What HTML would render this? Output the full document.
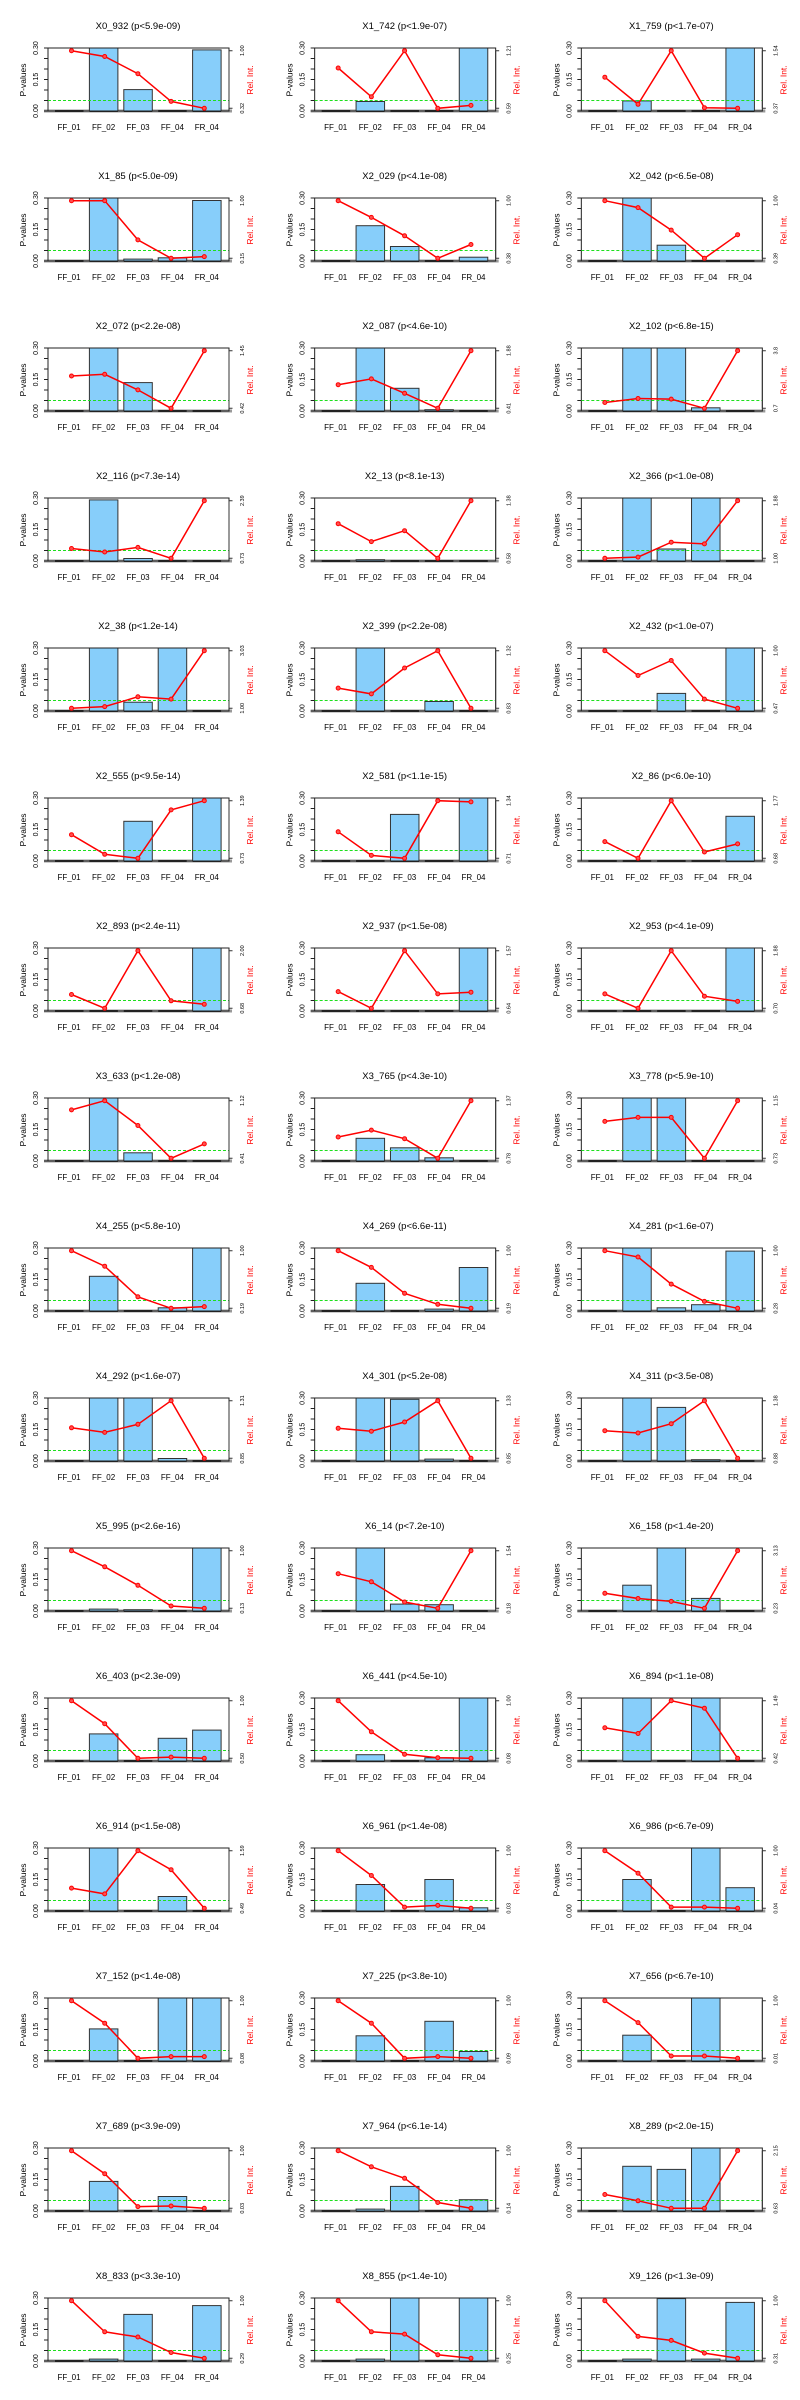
<!DOCTYPE html>
<html><head><meta charset="utf-8"><style>
html,body{margin:0;padding:0;background:#fff}
svg{display:block}
text{font-family:"Liberation Sans",sans-serif;fill:#000}
.t{font-size:9.5px;text-anchor:middle}
.x{font-size:8px;text-anchor:middle}
.y{font-size:7px;text-anchor:middle}
.p{font-size:8.5px;text-anchor:middle}
.r{font-size:8.5px;text-anchor:middle;fill:#f00}
.s{font-size:5.5px;text-anchor:middle}
.b{fill:#87cefa;stroke:#333;stroke-width:1}
.l{fill:none;stroke:#f00;stroke-width:1.5}
</style></head><body>
<svg width="800" height="2400" viewBox="0 0 800 2400" xmlns="http://www.w3.org/2000/svg">
<defs>
<g id="fa">
<line x1="44" y1="111" x2="232" y2="111" stroke="#999" stroke-width="3"/>
<path d="M55 111h28.5M89.4 111h28.5M123.8 111h28.5M158.2 111h28.5M192.6 111h28.5" stroke="#222" stroke-width="2"/>
</g>
<g id="fb">
<rect x="48" y="48" width="181" height="63" fill="none" stroke="#222" stroke-width="1"/>
<path d="M44 111H48M44 100.5H48M44 90H48M44 79.5H48M44 69H48M44 58.5H48M44 48H48" stroke="#222" stroke-width="1"/>
<line x1="48" y1="100.5" x2="229" y2="100.5" stroke="#1de01d" stroke-width="1" stroke-dasharray="3,2"/>
<path d="M229 50.7V108.3M229 50.7H232.5M229 108.3H232.5" stroke="#333" stroke-width="1" fill="none"/>
</g>
<g id="ax">
<text class="x" x="69" y="130">FF_01</text><text class="x" x="103.6" y="130">FF_02</text><text class="x" x="138" y="130">FF_03</text><text class="x" x="172.4" y="130">FF_04</text><text class="x" x="206.8" y="130">FR_04</text>
<text class="y" transform="translate(38,111) rotate(-90)">0.00</text><text class="y" transform="translate(38,79.5) rotate(-90)">0.15</text><text class="y" transform="translate(38,48) rotate(-90)">0.30</text>
<text class="p" transform="translate(26,80) rotate(-90)">P-values</text>
<text class="r" transform="translate(253,80) rotate(-90)">Rel. Int.</text>
</g>
</defs>

<g transform="translate(0,0)"><use href="#fa"/><rect class="b" x="89.4" y="48" width="28.5" height="63"/><rect class="b" x="123.8" y="89.6" width="28.5" height="21.4"/><rect class="b" x="192.6" y="49.9" width="28.5" height="61.1"/><use href="#fb"/><polyline class="l" points="71.5,50.7 104.7,56.5 137.9,73.7 171.1,101.4 204.3,108.3"/><g fill="#ff5050" stroke="#f00"><circle cx="71.5" cy="50.7" r="2"/><circle cx="104.7" cy="56.5" r="2"/><circle cx="137.9" cy="73.7" r="2"/><circle cx="171.1" cy="101.4" r="2"/><circle cx="204.3" cy="108.3" r="2"/></g><text class="t" x="138" y="29">X0_932 (p&lt;5.9e-09)</text><use href="#ax"/><text class="s" transform="translate(244,50.7) rotate(-90)">1.00</text><text class="s" transform="translate(244,108.3) rotate(-90)">0.32</text></g>

<g transform="translate(266.67,0)"><use href="#fa"/><rect class="b" x="89.4" y="101.5" width="28.5" height="9.5"/><rect class="b" x="192.6" y="48" width="28.5" height="63"/><use href="#fb"/><polyline class="l" points="71.5,68 104.7,96.8 137.9,50.7 171.1,108.3 204.3,105.4"/><g fill="#ff5050" stroke="#f00"><circle cx="71.5" cy="68" r="2"/><circle cx="104.7" cy="96.8" r="2"/><circle cx="137.9" cy="50.7" r="2"/><circle cx="171.1" cy="108.3" r="2"/><circle cx="204.3" cy="105.4" r="2"/></g><text class="t" x="138" y="29">X1_742 (p&lt;1.9e-07)</text><use href="#ax"/><text class="s" transform="translate(244,50.7) rotate(-90)">1.21</text><text class="s" transform="translate(244,108.3) rotate(-90)">0.59</text></g>

<g transform="translate(533.33,0)"><use href="#fa"/><rect class="b" x="89.4" y="100.9" width="28.5" height="10.1"/><rect class="b" x="192.6" y="48" width="28.5" height="63"/><use href="#fb"/><polyline class="l" points="71.5,77.2 104.7,104.3 137.9,50.7 171.1,107.7 204.3,108.3"/><g fill="#ff5050" stroke="#f00"><circle cx="71.5" cy="77.2" r="2"/><circle cx="104.7" cy="104.3" r="2"/><circle cx="137.9" cy="50.7" r="2"/><circle cx="171.1" cy="107.7" r="2"/><circle cx="204.3" cy="108.3" r="2"/></g><text class="t" x="138" y="29">X1_759 (p&lt;1.7e-07)</text><use href="#ax"/><text class="s" transform="translate(244,50.7) rotate(-90)">1.54</text><text class="s" transform="translate(244,108.3) rotate(-90)">0.37</text></g>

<g transform="translate(0,150)"><use href="#fa"/><rect class="b" x="89.4" y="48" width="28.5" height="63"/><rect class="b" x="123.8" y="109.1" width="28.5" height="1.9"/><rect class="b" x="158.2" y="107.8" width="28.5" height="3.2"/><rect class="b" x="192.6" y="50.5" width="28.5" height="60.5"/><use href="#fb"/><polyline class="l" points="71.5,50.7 104.7,50.7 137.9,89.9 171.1,108.3 204.3,106.6"/><g fill="#ff5050" stroke="#f00"><circle cx="71.5" cy="50.7" r="2"/><circle cx="104.7" cy="50.7" r="2"/><circle cx="137.9" cy="89.9" r="2"/><circle cx="171.1" cy="108.3" r="2"/><circle cx="204.3" cy="106.6" r="2"/></g><text class="t" x="138" y="29">X1_85 (p&lt;5.0e-09)</text><use href="#ax"/><text class="s" transform="translate(244,50.7) rotate(-90)">1.00</text><text class="s" transform="translate(244,108.3) rotate(-90)">0.15</text></g>

<g transform="translate(266.67,150)"><use href="#fa"/><rect class="b" x="89.4" y="75.7" width="28.5" height="35.3"/><rect class="b" x="123.8" y="96.5" width="28.5" height="14.5"/><rect class="b" x="192.6" y="107.2" width="28.5" height="3.8"/><use href="#fb"/><polyline class="l" points="71.5,50.7 104.7,67.4 137.9,85.8 171.1,108.3 204.3,94.5"/><g fill="#ff5050" stroke="#f00"><circle cx="71.5" cy="50.7" r="2"/><circle cx="104.7" cy="67.4" r="2"/><circle cx="137.9" cy="85.8" r="2"/><circle cx="171.1" cy="108.3" r="2"/><circle cx="204.3" cy="94.5" r="2"/></g><text class="t" x="138" y="29">X2_029 (p&lt;4.1e-08)</text><use href="#ax"/><text class="s" transform="translate(244,50.7) rotate(-90)">1.00</text><text class="s" transform="translate(244,108.3) rotate(-90)">0.38</text></g>

<g transform="translate(533.33,150)"><use href="#fa"/><rect class="b" x="89.4" y="48" width="28.5" height="63"/><rect class="b" x="123.8" y="95.2" width="28.5" height="15.8"/><use href="#fb"/><polyline class="l" points="71.5,50.7 104.7,57.6 137.9,80.1 171.1,108.3 204.3,84.7"/><g fill="#ff5050" stroke="#f00"><circle cx="71.5" cy="50.7" r="2"/><circle cx="104.7" cy="57.6" r="2"/><circle cx="137.9" cy="80.1" r="2"/><circle cx="171.1" cy="108.3" r="2"/><circle cx="204.3" cy="84.7" r="2"/></g><text class="t" x="138" y="29">X2_042 (p&lt;6.5e-08)</text><use href="#ax"/><text class="s" transform="translate(244,50.7) rotate(-90)">1.00</text><text class="s" transform="translate(244,108.3) rotate(-90)">0.39</text></g>

<g transform="translate(0,300)"><use href="#fa"/><rect class="b" x="89.4" y="48" width="28.5" height="63"/><rect class="b" x="123.8" y="82.6" width="28.5" height="28.4"/><use href="#fb"/><polyline class="l" points="71.5,76 104.7,74.3 137.9,89.9 171.1,108.3 204.3,50.7"/><g fill="#ff5050" stroke="#f00"><circle cx="71.5" cy="76" r="2"/><circle cx="104.7" cy="74.3" r="2"/><circle cx="137.9" cy="89.9" r="2"/><circle cx="171.1" cy="108.3" r="2"/><circle cx="204.3" cy="50.7" r="2"/></g><text class="t" x="138" y="29">X2_072 (p&lt;2.2e-08)</text><use href="#ax"/><text class="s" transform="translate(244,50.7) rotate(-90)">1.45</text><text class="s" transform="translate(244,108.3) rotate(-90)">0.42</text></g>

<g transform="translate(266.67,300)"><use href="#fa"/><rect class="b" x="89.4" y="48" width="28.5" height="63"/><rect class="b" x="123.8" y="88.3" width="28.5" height="22.7"/><rect class="b" x="158.2" y="109.7" width="28.5" height="1.3"/><use href="#fb"/><polyline class="l" points="71.5,84.7 104.7,78.9 137.9,93.3 171.1,108.3 204.3,50.7"/><g fill="#ff5050" stroke="#f00"><circle cx="71.5" cy="84.7" r="2"/><circle cx="104.7" cy="78.9" r="2"/><circle cx="137.9" cy="93.3" r="2"/><circle cx="171.1" cy="108.3" r="2"/><circle cx="204.3" cy="50.7" r="2"/></g><text class="t" x="138" y="29">X2_087 (p&lt;4.6e-10)</text><use href="#ax"/><text class="s" transform="translate(244,50.7) rotate(-90)">1.88</text><text class="s" transform="translate(244,108.3) rotate(-90)">0.41</text></g>

<g transform="translate(533.33,300)"><use href="#fa"/><rect class="b" x="89.4" y="48" width="28.5" height="63"/><rect class="b" x="123.8" y="48" width="28.5" height="63"/><rect class="b" x="158.2" y="107.8" width="28.5" height="3.2"/><use href="#fb"/><polyline class="l" points="71.5,102.5 104.7,98.5 137.9,99.1 171.1,108.3 204.3,50.7"/><g fill="#ff5050" stroke="#f00"><circle cx="71.5" cy="102.5" r="2"/><circle cx="104.7" cy="98.5" r="2"/><circle cx="137.9" cy="99.1" r="2"/><circle cx="171.1" cy="108.3" r="2"/><circle cx="204.3" cy="50.7" r="2"/></g><text class="t" x="138" y="29">X2_102 (p&lt;6.8e-15)</text><use href="#ax"/><text class="s" transform="translate(244,50.7) rotate(-90)">3.8</text><text class="s" transform="translate(244,108.3) rotate(-90)">0.7</text></g>

<g transform="translate(0,450)"><use href="#fa"/><rect class="b" x="89.4" y="49.9" width="28.5" height="61.1"/><rect class="b" x="123.8" y="108.5" width="28.5" height="2.5"/><use href="#fb"/><polyline class="l" points="71.5,98.5 104.7,102 137.9,97.4 171.1,108.3 204.3,50.7"/><g fill="#ff5050" stroke="#f00"><circle cx="71.5" cy="98.5" r="2"/><circle cx="104.7" cy="102" r="2"/><circle cx="137.9" cy="97.4" r="2"/><circle cx="171.1" cy="108.3" r="2"/><circle cx="204.3" cy="50.7" r="2"/></g><text class="t" x="138" y="29">X2_116 (p&lt;7.3e-14)</text><use href="#ax"/><text class="s" transform="translate(244,50.7) rotate(-90)">2.39</text><text class="s" transform="translate(244,108.3) rotate(-90)">0.73</text></g>

<g transform="translate(266.67,450)"><use href="#fa"/><rect class="b" x="89.4" y="109.7" width="28.5" height="1.3"/><use href="#fb"/><polyline class="l" points="71.5,73.7 104.7,91.6 137.9,80.7 171.1,108.3 204.3,50.7"/><g fill="#ff5050" stroke="#f00"><circle cx="71.5" cy="73.7" r="2"/><circle cx="104.7" cy="91.6" r="2"/><circle cx="137.9" cy="80.7" r="2"/><circle cx="171.1" cy="108.3" r="2"/><circle cx="204.3" cy="50.7" r="2"/></g><text class="t" x="138" y="29">X2_13 (p&lt;8.1e-13)</text><use href="#ax"/><text class="s" transform="translate(244,50.7) rotate(-90)">1.38</text><text class="s" transform="translate(244,108.3) rotate(-90)">0.58</text></g>

<g transform="translate(533.33,450)"><use href="#fa"/><rect class="b" x="89.4" y="48" width="28.5" height="63"/><rect class="b" x="123.8" y="99" width="28.5" height="12"/><rect class="b" x="158.2" y="48" width="28.5" height="63"/><use href="#fb"/><polyline class="l" points="71.5,108.3 104.7,107.1 137.9,92.2 171.1,93.9 204.3,50.7"/><g fill="#ff5050" stroke="#f00"><circle cx="71.5" cy="108.3" r="2"/><circle cx="104.7" cy="107.1" r="2"/><circle cx="137.9" cy="92.2" r="2"/><circle cx="171.1" cy="93.9" r="2"/><circle cx="204.3" cy="50.7" r="2"/></g><text class="t" x="138" y="29">X2_366 (p&lt;1.0e-08)</text><use href="#ax"/><text class="s" transform="translate(244,50.7) rotate(-90)">1.88</text><text class="s" transform="translate(244,108.3) rotate(-90)">1.00</text></g>

<g transform="translate(0,600)"><use href="#fa"/><rect class="b" x="89.4" y="48" width="28.5" height="63"/><rect class="b" x="123.8" y="102.2" width="28.5" height="8.8"/><rect class="b" x="158.2" y="48" width="28.5" height="63"/><use href="#fb"/><polyline class="l" points="71.5,108.3 104.7,106.6 137.9,96.8 171.1,99.1 204.3,50.7"/><g fill="#ff5050" stroke="#f00"><circle cx="71.5" cy="108.3" r="2"/><circle cx="104.7" cy="106.6" r="2"/><circle cx="137.9" cy="96.8" r="2"/><circle cx="171.1" cy="99.1" r="2"/><circle cx="204.3" cy="50.7" r="2"/></g><text class="t" x="138" y="29">X2_38 (p&lt;1.2e-14)</text><use href="#ax"/><text class="s" transform="translate(244,50.7) rotate(-90)">3.03</text><text class="s" transform="translate(244,108.3) rotate(-90)">1.00</text></g>

<g transform="translate(266.67,600)"><use href="#fa"/><rect class="b" x="89.4" y="48" width="28.5" height="63"/><rect class="b" x="158.2" y="101.5" width="28.5" height="9.5"/><use href="#fb"/><polyline class="l" points="71.5,88.1 104.7,93.9 137.9,68 171.1,50.7 204.3,108.3"/><g fill="#ff5050" stroke="#f00"><circle cx="71.5" cy="88.1" r="2"/><circle cx="104.7" cy="93.9" r="2"/><circle cx="137.9" cy="68" r="2"/><circle cx="171.1" cy="50.7" r="2"/><circle cx="204.3" cy="108.3" r="2"/></g><text class="t" x="138" y="29">X2_399 (p&lt;2.2e-08)</text><use href="#ax"/><text class="s" transform="translate(244,50.7) rotate(-90)">1.32</text><text class="s" transform="translate(244,108.3) rotate(-90)">0.83</text></g>

<g transform="translate(533.33,600)"><use href="#fa"/><rect class="b" x="123.8" y="93.4" width="28.5" height="17.6"/><rect class="b" x="192.6" y="48" width="28.5" height="63"/><use href="#fb"/><polyline class="l" points="71.5,50.7 104.7,75.5 137.9,60.5 171.1,99.1 204.3,108.3"/><g fill="#ff5050" stroke="#f00"><circle cx="71.5" cy="50.7" r="2"/><circle cx="104.7" cy="75.5" r="2"/><circle cx="137.9" cy="60.5" r="2"/><circle cx="171.1" cy="99.1" r="2"/><circle cx="204.3" cy="108.3" r="2"/></g><text class="t" x="138" y="29">X2_432 (p&lt;1.0e-07)</text><use href="#ax"/><text class="s" transform="translate(244,50.7) rotate(-90)">1.00</text><text class="s" transform="translate(244,108.3) rotate(-90)">0.47</text></g>

<g transform="translate(0,750)"><use href="#fa"/><rect class="b" x="123.8" y="71.3" width="28.5" height="39.7"/><rect class="b" x="192.6" y="48" width="28.5" height="63"/><use href="#fb"/><polyline class="l" points="71.5,84.7 104.7,104.3 137.9,108.3 171.1,59.9 204.3,50.7"/><g fill="#ff5050" stroke="#f00"><circle cx="71.5" cy="84.7" r="2"/><circle cx="104.7" cy="104.3" r="2"/><circle cx="137.9" cy="108.3" r="2"/><circle cx="171.1" cy="59.9" r="2"/><circle cx="204.3" cy="50.7" r="2"/></g><text class="t" x="138" y="29">X2_555 (p&lt;9.5e-14)</text><use href="#ax"/><text class="s" transform="translate(244,50.7) rotate(-90)">1.39</text><text class="s" transform="translate(244,108.3) rotate(-90)">0.73</text></g>

<g transform="translate(266.67,750)"><use href="#fa"/><rect class="b" x="123.8" y="64.4" width="28.5" height="46.6"/><rect class="b" x="192.6" y="48" width="28.5" height="63"/><use href="#fb"/><polyline class="l" points="71.5,81.8 104.7,105.4 137.9,108.3 171.1,50.7 204.3,51.9"/><g fill="#ff5050" stroke="#f00"><circle cx="71.5" cy="81.8" r="2"/><circle cx="104.7" cy="105.4" r="2"/><circle cx="137.9" cy="108.3" r="2"/><circle cx="171.1" cy="50.7" r="2"/><circle cx="204.3" cy="51.9" r="2"/></g><text class="t" x="138" y="29">X2_581 (p&lt;1.1e-15)</text><use href="#ax"/><text class="s" transform="translate(244,50.7) rotate(-90)">1.34</text><text class="s" transform="translate(244,108.3) rotate(-90)">0.71</text></g>

<g transform="translate(533.33,750)"><use href="#fa"/><rect class="b" x="192.6" y="66.3" width="28.5" height="44.7"/><use href="#fb"/><polyline class="l" points="71.5,91.6 104.7,108.3 137.9,50.7 171.1,102 204.3,93.9"/><g fill="#ff5050" stroke="#f00"><circle cx="71.5" cy="91.6" r="2"/><circle cx="104.7" cy="108.3" r="2"/><circle cx="137.9" cy="50.7" r="2"/><circle cx="171.1" cy="102" r="2"/><circle cx="204.3" cy="93.9" r="2"/></g><text class="t" x="138" y="29">X2_86 (p&lt;6.0e-10)</text><use href="#ax"/><text class="s" transform="translate(244,50.7) rotate(-90)">1.77</text><text class="s" transform="translate(244,108.3) rotate(-90)">0.68</text></g>

<g transform="translate(0,900)"><use href="#fa"/><rect class="b" x="192.6" y="48" width="28.5" height="63"/><use href="#fb"/><polyline class="l" points="71.5,94.5 104.7,108.3 137.9,50.7 171.1,100.8 204.3,104.3"/><g fill="#ff5050" stroke="#f00"><circle cx="71.5" cy="94.5" r="2"/><circle cx="104.7" cy="108.3" r="2"/><circle cx="137.9" cy="50.7" r="2"/><circle cx="171.1" cy="100.8" r="2"/><circle cx="204.3" cy="104.3" r="2"/></g><text class="t" x="138" y="29">X2_893 (p&lt;2.4e-11)</text><use href="#ax"/><text class="s" transform="translate(244,50.7) rotate(-90)">2.00</text><text class="s" transform="translate(244,108.3) rotate(-90)">0.68</text></g>

<g transform="translate(266.67,900)"><use href="#fa"/><rect class="b" x="192.6" y="48" width="28.5" height="63"/><use href="#fb"/><polyline class="l" points="71.5,91.6 104.7,108.3 137.9,50.7 171.1,93.9 204.3,92.2"/><g fill="#ff5050" stroke="#f00"><circle cx="71.5" cy="91.6" r="2"/><circle cx="104.7" cy="108.3" r="2"/><circle cx="137.9" cy="50.7" r="2"/><circle cx="171.1" cy="93.9" r="2"/><circle cx="204.3" cy="92.2" r="2"/></g><text class="t" x="138" y="29">X2_937 (p&lt;1.5e-08)</text><use href="#ax"/><text class="s" transform="translate(244,50.7) rotate(-90)">1.57</text><text class="s" transform="translate(244,108.3) rotate(-90)">0.64</text></g>

<g transform="translate(533.33,900)"><use href="#fa"/><rect class="b" x="192.6" y="48" width="28.5" height="63"/><use href="#fb"/><polyline class="l" points="71.5,93.9 104.7,108.3 137.9,50.7 171.1,96.2 204.3,101.4"/><g fill="#ff5050" stroke="#f00"><circle cx="71.5" cy="93.9" r="2"/><circle cx="104.7" cy="108.3" r="2"/><circle cx="137.9" cy="50.7" r="2"/><circle cx="171.1" cy="96.2" r="2"/><circle cx="204.3" cy="101.4" r="2"/></g><text class="t" x="138" y="29">X2_953 (p&lt;4.1e-09)</text><use href="#ax"/><text class="s" transform="translate(244,50.7) rotate(-90)">1.88</text><text class="s" transform="translate(244,108.3) rotate(-90)">0.70</text></g>

<g transform="translate(0,1050)"><use href="#fa"/><rect class="b" x="89.4" y="48" width="28.5" height="63"/><rect class="b" x="123.8" y="102.8" width="28.5" height="8.2"/><use href="#fb"/><polyline class="l" points="71.5,59.9 104.7,50.7 137.9,75.5 171.1,108.3 204.3,93.9"/><g fill="#ff5050" stroke="#f00"><circle cx="71.5" cy="59.9" r="2"/><circle cx="104.7" cy="50.7" r="2"/><circle cx="137.9" cy="75.5" r="2"/><circle cx="171.1" cy="108.3" r="2"/><circle cx="204.3" cy="93.9" r="2"/></g><text class="t" x="138" y="29">X3_633 (p&lt;1.2e-08)</text><use href="#ax"/><text class="s" transform="translate(244,50.7) rotate(-90)">1.12</text><text class="s" transform="translate(244,108.3) rotate(-90)">0.41</text></g>

<g transform="translate(266.67,1050)"><use href="#fa"/><rect class="b" x="89.4" y="88.3" width="28.5" height="22.7"/><rect class="b" x="123.8" y="97.8" width="28.5" height="13.2"/><rect class="b" x="158.2" y="107.8" width="28.5" height="3.2"/><use href="#fb"/><polyline class="l" points="71.5,87 104.7,80.1 137.9,88.7 171.1,108.3 204.3,50.7"/><g fill="#ff5050" stroke="#f00"><circle cx="71.5" cy="87" r="2"/><circle cx="104.7" cy="80.1" r="2"/><circle cx="137.9" cy="88.7" r="2"/><circle cx="171.1" cy="108.3" r="2"/><circle cx="204.3" cy="50.7" r="2"/></g><text class="t" x="138" y="29">X3_765 (p&lt;4.3e-10)</text><use href="#ax"/><text class="s" transform="translate(244,50.7) rotate(-90)">1.37</text><text class="s" transform="translate(244,108.3) rotate(-90)">0.78</text></g>

<g transform="translate(533.33,1050)"><use href="#fa"/><rect class="b" x="89.4" y="48" width="28.5" height="63"/><rect class="b" x="123.8" y="48" width="28.5" height="63"/><use href="#fb"/><polyline class="l" points="71.5,71.4 104.7,67.4 137.9,67.4 171.1,108.3 204.3,50.7"/><g fill="#ff5050" stroke="#f00"><circle cx="71.5" cy="71.4" r="2"/><circle cx="104.7" cy="67.4" r="2"/><circle cx="137.9" cy="67.4" r="2"/><circle cx="171.1" cy="108.3" r="2"/><circle cx="204.3" cy="50.7" r="2"/></g><text class="t" x="138" y="29">X3_778 (p&lt;5.9e-10)</text><use href="#ax"/><text class="s" transform="translate(244,50.7) rotate(-90)">1.15</text><text class="s" transform="translate(244,108.3) rotate(-90)">0.73</text></g>

<g transform="translate(0,1200)"><use href="#fa"/><rect class="b" x="89.4" y="76.3" width="28.5" height="34.7"/><rect class="b" x="158.2" y="107.8" width="28.5" height="3.2"/><rect class="b" x="192.6" y="48" width="28.5" height="63"/><use href="#fb"/><polyline class="l" points="71.5,50.7 104.7,66.2 137.9,96.8 171.1,108.3 204.3,106.6"/><g fill="#ff5050" stroke="#f00"><circle cx="71.5" cy="50.7" r="2"/><circle cx="104.7" cy="66.2" r="2"/><circle cx="137.9" cy="96.8" r="2"/><circle cx="171.1" cy="108.3" r="2"/><circle cx="204.3" cy="106.6" r="2"/></g><text class="t" x="138" y="29">X4_255 (p&lt;5.8e-10)</text><use href="#ax"/><text class="s" transform="translate(244,50.7) rotate(-90)">1.00</text><text class="s" transform="translate(244,108.3) rotate(-90)">0.19</text></g>

<g transform="translate(266.67,1200)"><use href="#fa"/><rect class="b" x="89.4" y="83.3" width="28.5" height="27.7"/><rect class="b" x="158.2" y="109.1" width="28.5" height="1.9"/><rect class="b" x="192.6" y="67.5" width="28.5" height="43.5"/><use href="#fb"/><polyline class="l" points="71.5,50.7 104.7,67.4 137.9,93.3 171.1,104.3 204.3,108.3"/><g fill="#ff5050" stroke="#f00"><circle cx="71.5" cy="50.7" r="2"/><circle cx="104.7" cy="67.4" r="2"/><circle cx="137.9" cy="93.3" r="2"/><circle cx="171.1" cy="104.3" r="2"/><circle cx="204.3" cy="108.3" r="2"/></g><text class="t" x="138" y="29">X4_269 (p&lt;6.6e-11)</text><use href="#ax"/><text class="s" transform="translate(244,50.7) rotate(-90)">1.00</text><text class="s" transform="translate(244,108.3) rotate(-90)">0.19</text></g>

<g transform="translate(533.33,1200)"><use href="#fa"/><rect class="b" x="89.4" y="48" width="28.5" height="63"/><rect class="b" x="123.8" y="107.8" width="28.5" height="3.2"/><rect class="b" x="158.2" y="104.7" width="28.5" height="6.3"/><rect class="b" x="192.6" y="51.1" width="28.5" height="59.9"/><use href="#fb"/><polyline class="l" points="71.5,50.7 104.7,57 137.9,84.1 171.1,101.4 204.3,108.3"/><g fill="#ff5050" stroke="#f00"><circle cx="71.5" cy="50.7" r="2"/><circle cx="104.7" cy="57" r="2"/><circle cx="137.9" cy="84.1" r="2"/><circle cx="171.1" cy="101.4" r="2"/><circle cx="204.3" cy="108.3" r="2"/></g><text class="t" x="138" y="29">X4_281 (p&lt;1.6e-07)</text><use href="#ax"/><text class="s" transform="translate(244,50.7) rotate(-90)">1.00</text><text class="s" transform="translate(244,108.3) rotate(-90)">0.28</text></g>

<g transform="translate(0,1350)"><use href="#fa"/><rect class="b" x="89.4" y="48" width="28.5" height="63"/><rect class="b" x="123.8" y="48" width="28.5" height="63"/><rect class="b" x="158.2" y="108.5" width="28.5" height="2.5"/><use href="#fb"/><polyline class="l" points="71.5,77.8 104.7,82.4 137.9,74.3 171.1,50.7 204.3,108.3"/><g fill="#ff5050" stroke="#f00"><circle cx="71.5" cy="77.8" r="2"/><circle cx="104.7" cy="82.4" r="2"/><circle cx="137.9" cy="74.3" r="2"/><circle cx="171.1" cy="50.7" r="2"/><circle cx="204.3" cy="108.3" r="2"/></g><text class="t" x="138" y="29">X4_292 (p&lt;1.6e-07)</text><use href="#ax"/><text class="s" transform="translate(244,50.7) rotate(-90)">1.31</text><text class="s" transform="translate(244,108.3) rotate(-90)">0.85</text></g>

<g transform="translate(266.67,1350)"><use href="#fa"/><rect class="b" x="89.4" y="48" width="28.5" height="63"/><rect class="b" x="123.8" y="49.3" width="28.5" height="61.7"/><rect class="b" x="158.2" y="109.1" width="28.5" height="1.9"/><use href="#fb"/><polyline class="l" points="71.5,78.3 104.7,81.2 137.9,72 171.1,50.7 204.3,108.3"/><g fill="#ff5050" stroke="#f00"><circle cx="71.5" cy="78.3" r="2"/><circle cx="104.7" cy="81.2" r="2"/><circle cx="137.9" cy="72" r="2"/><circle cx="171.1" cy="50.7" r="2"/><circle cx="204.3" cy="108.3" r="2"/></g><text class="t" x="138" y="29">X4_301 (p&lt;5.2e-08)</text><use href="#ax"/><text class="s" transform="translate(244,50.7) rotate(-90)">1.33</text><text class="s" transform="translate(244,108.3) rotate(-90)">0.85</text></g>

<g transform="translate(533.33,1350)"><use href="#fa"/><rect class="b" x="89.4" y="48" width="28.5" height="63"/><rect class="b" x="123.8" y="57.4" width="28.5" height="53.6"/><rect class="b" x="158.2" y="109.7" width="28.5" height="1.3"/><use href="#fb"/><polyline class="l" points="71.5,80.7 104.7,83 137.9,73.7 171.1,50.7 204.3,108.3"/><g fill="#ff5050" stroke="#f00"><circle cx="71.5" cy="80.7" r="2"/><circle cx="104.7" cy="83" r="2"/><circle cx="137.9" cy="73.7" r="2"/><circle cx="171.1" cy="50.7" r="2"/><circle cx="204.3" cy="108.3" r="2"/></g><text class="t" x="138" y="29">X4_311 (p&lt;3.5e-08)</text><use href="#ax"/><text class="s" transform="translate(244,50.7) rotate(-90)">1.38</text><text class="s" transform="translate(244,108.3) rotate(-90)">0.88</text></g>

<g transform="translate(0,1500)"><use href="#fa"/><rect class="b" x="89.4" y="109.1" width="28.5" height="1.9"/><rect class="b" x="123.8" y="109.7" width="28.5" height="1.3"/><rect class="b" x="192.6" y="48" width="28.5" height="63"/><use href="#fb"/><polyline class="l" points="71.5,50.7 104.7,66.8 137.9,85.3 171.1,106 204.3,108.3"/><g fill="#ff5050" stroke="#f00"><circle cx="71.5" cy="50.7" r="2"/><circle cx="104.7" cy="66.8" r="2"/><circle cx="137.9" cy="85.3" r="2"/><circle cx="171.1" cy="106" r="2"/><circle cx="204.3" cy="108.3" r="2"/></g><text class="t" x="138" y="29">X5_995 (p&lt;2.6e-16)</text><use href="#ax"/><text class="s" transform="translate(244,50.7) rotate(-90)">1.00</text><text class="s" transform="translate(244,108.3) rotate(-90)">0.13</text></g>

<g transform="translate(266.67,1500)"><use href="#fa"/><rect class="b" x="89.4" y="48" width="28.5" height="63"/><rect class="b" x="123.8" y="104.1" width="28.5" height="6.9"/><rect class="b" x="158.2" y="104.7" width="28.5" height="6.3"/><use href="#fb"/><polyline class="l" points="71.5,73.7 104.7,81.8 137.9,102 171.1,108.3 204.3,50.7"/><g fill="#ff5050" stroke="#f00"><circle cx="71.5" cy="73.7" r="2"/><circle cx="104.7" cy="81.8" r="2"/><circle cx="137.9" cy="102" r="2"/><circle cx="171.1" cy="108.3" r="2"/><circle cx="204.3" cy="50.7" r="2"/></g><text class="t" x="138" y="29">X6_14 (p&lt;7.2e-10)</text><use href="#ax"/><text class="s" transform="translate(244,50.7) rotate(-90)">1.54</text><text class="s" transform="translate(244,108.3) rotate(-90)">0.18</text></g>

<g transform="translate(533.33,1500)"><use href="#fa"/><rect class="b" x="89.4" y="85.2" width="28.5" height="25.8"/><rect class="b" x="123.8" y="48" width="28.5" height="63"/><rect class="b" x="158.2" y="98.4" width="28.5" height="12.6"/><use href="#fb"/><polyline class="l" points="71.5,93.3 104.7,98.5 137.9,101.4 171.1,108.3 204.3,50.7"/><g fill="#ff5050" stroke="#f00"><circle cx="71.5" cy="93.3" r="2"/><circle cx="104.7" cy="98.5" r="2"/><circle cx="137.9" cy="101.4" r="2"/><circle cx="171.1" cy="108.3" r="2"/><circle cx="204.3" cy="50.7" r="2"/></g><text class="t" x="138" y="29">X6_158 (p&lt;1.4e-20)</text><use href="#ax"/><text class="s" transform="translate(244,50.7) rotate(-90)">3.13</text><text class="s" transform="translate(244,108.3) rotate(-90)">0.23</text></g>

<g transform="translate(0,1650)"><use href="#fa"/><rect class="b" x="89.4" y="83.9" width="28.5" height="27.1"/><rect class="b" x="158.2" y="88.3" width="28.5" height="22.7"/><rect class="b" x="192.6" y="80.1" width="28.5" height="30.9"/><use href="#fb"/><polyline class="l" points="71.5,50.7 104.7,73.7 137.9,108.3 171.1,107.1 204.3,108.3"/><g fill="#ff5050" stroke="#f00"><circle cx="71.5" cy="50.7" r="2"/><circle cx="104.7" cy="73.7" r="2"/><circle cx="137.9" cy="108.3" r="2"/><circle cx="171.1" cy="107.1" r="2"/><circle cx="204.3" cy="108.3" r="2"/></g><text class="t" x="138" y="29">X6_403 (p&lt;2.3e-09)</text><use href="#ax"/><text class="s" transform="translate(244,50.7) rotate(-90)">1.00</text><text class="s" transform="translate(244,108.3) rotate(-90)">0.50</text></g>

<g transform="translate(266.67,1650)"><use href="#fa"/><rect class="b" x="89.4" y="104.7" width="28.5" height="6.3"/><rect class="b" x="158.2" y="107.8" width="28.5" height="3.2"/><rect class="b" x="192.6" y="48" width="28.5" height="63"/><use href="#fb"/><polyline class="l" points="71.5,50.7 104.7,81.8 137.9,104.3 171.1,107.7 204.3,108.3"/><g fill="#ff5050" stroke="#f00"><circle cx="71.5" cy="50.7" r="2"/><circle cx="104.7" cy="81.8" r="2"/><circle cx="137.9" cy="104.3" r="2"/><circle cx="171.1" cy="107.7" r="2"/><circle cx="204.3" cy="108.3" r="2"/></g><text class="t" x="138" y="29">X6_441 (p&lt;4.5e-10)</text><use href="#ax"/><text class="s" transform="translate(244,50.7) rotate(-90)">1.00</text><text class="s" transform="translate(244,108.3) rotate(-90)">0.08</text></g>

<g transform="translate(533.33,1650)"><use href="#fa"/><rect class="b" x="89.4" y="48" width="28.5" height="63"/><rect class="b" x="158.2" y="48" width="28.5" height="63"/><use href="#fb"/><polyline class="l" points="71.5,77.8 104.7,83.5 137.9,50.7 171.1,58.2 204.3,108.3"/><g fill="#ff5050" stroke="#f00"><circle cx="71.5" cy="77.8" r="2"/><circle cx="104.7" cy="83.5" r="2"/><circle cx="137.9" cy="50.7" r="2"/><circle cx="171.1" cy="58.2" r="2"/><circle cx="204.3" cy="108.3" r="2"/></g><text class="t" x="138" y="29">X6_894 (p&lt;1.1e-08)</text><use href="#ax"/><text class="s" transform="translate(244,50.7) rotate(-90)">1.49</text><text class="s" transform="translate(244,108.3) rotate(-90)">0.42</text></g>

<g transform="translate(0,1800)"><use href="#fa"/><rect class="b" x="89.4" y="48" width="28.5" height="63"/><rect class="b" x="158.2" y="96.5" width="28.5" height="14.5"/><use href="#fb"/><polyline class="l" points="71.5,88.1 104.7,93.9 137.9,50.7 171.1,69.7 204.3,108.3"/><g fill="#ff5050" stroke="#f00"><circle cx="71.5" cy="88.1" r="2"/><circle cx="104.7" cy="93.9" r="2"/><circle cx="137.9" cy="50.7" r="2"/><circle cx="171.1" cy="69.7" r="2"/><circle cx="204.3" cy="108.3" r="2"/></g><text class="t" x="138" y="29">X6_914 (p&lt;1.5e-08)</text><use href="#ax"/><text class="s" transform="translate(244,50.7) rotate(-90)">1.59</text><text class="s" transform="translate(244,108.3) rotate(-90)">0.49</text></g>

<g transform="translate(266.67,1800)"><use href="#fa"/><rect class="b" x="89.4" y="84.5" width="28.5" height="26.5"/><rect class="b" x="158.2" y="79.5" width="28.5" height="31.5"/><rect class="b" x="192.6" y="107.8" width="28.5" height="3.2"/><use href="#fb"/><polyline class="l" points="71.5,50.7 104.7,75.5 137.9,107.1 171.1,105.4 204.3,108.3"/><g fill="#ff5050" stroke="#f00"><circle cx="71.5" cy="50.7" r="2"/><circle cx="104.7" cy="75.5" r="2"/><circle cx="137.9" cy="107.1" r="2"/><circle cx="171.1" cy="105.4" r="2"/><circle cx="204.3" cy="108.3" r="2"/></g><text class="t" x="138" y="29">X6_961 (p&lt;1.4e-08)</text><use href="#ax"/><text class="s" transform="translate(244,50.7) rotate(-90)">1.00</text><text class="s" transform="translate(244,108.3) rotate(-90)">0.03</text></g>

<g transform="translate(533.33,1800)"><use href="#fa"/><rect class="b" x="89.4" y="79.5" width="28.5" height="31.5"/><rect class="b" x="158.2" y="48" width="28.5" height="63"/><rect class="b" x="192.6" y="87.7" width="28.5" height="23.3"/><use href="#fb"/><polyline class="l" points="71.5,50.7 104.7,73.2 137.9,107.1 171.1,107.1 204.3,108.3"/><g fill="#ff5050" stroke="#f00"><circle cx="71.5" cy="50.7" r="2"/><circle cx="104.7" cy="73.2" r="2"/><circle cx="137.9" cy="107.1" r="2"/><circle cx="171.1" cy="107.1" r="2"/><circle cx="204.3" cy="108.3" r="2"/></g><text class="t" x="138" y="29">X6_986 (p&lt;6.7e-09)</text><use href="#ax"/><text class="s" transform="translate(244,50.7) rotate(-90)">1.00</text><text class="s" transform="translate(244,108.3) rotate(-90)">0.04</text></g>

<g transform="translate(0,1950)"><use href="#fa"/><rect class="b" x="89.4" y="78.9" width="28.5" height="32.1"/><rect class="b" x="158.2" y="48" width="28.5" height="63"/><rect class="b" x="192.6" y="48" width="28.5" height="63"/><use href="#fb"/><polyline class="l" points="71.5,50.7 104.7,73.2 137.9,108.3 171.1,106.6 204.3,106.6"/><g fill="#ff5050" stroke="#f00"><circle cx="71.5" cy="50.7" r="2"/><circle cx="104.7" cy="73.2" r="2"/><circle cx="137.9" cy="108.3" r="2"/><circle cx="171.1" cy="106.6" r="2"/><circle cx="204.3" cy="106.6" r="2"/></g><text class="t" x="138" y="29">X7_152 (p&lt;1.4e-08)</text><use href="#ax"/><text class="s" transform="translate(244,50.7) rotate(-90)">1.00</text><text class="s" transform="translate(244,108.3) rotate(-90)">0.08</text></g>

<g transform="translate(266.67,1950)"><use href="#fa"/><rect class="b" x="89.4" y="85.8" width="28.5" height="25.2"/><rect class="b" x="158.2" y="71.3" width="28.5" height="39.7"/><rect class="b" x="192.6" y="101.5" width="28.5" height="9.5"/><use href="#fb"/><polyline class="l" points="71.5,50.7 104.7,73.2 137.9,108.3 171.1,106.6 204.3,108.3"/><g fill="#ff5050" stroke="#f00"><circle cx="71.5" cy="50.7" r="2"/><circle cx="104.7" cy="73.2" r="2"/><circle cx="137.9" cy="108.3" r="2"/><circle cx="171.1" cy="106.6" r="2"/><circle cx="204.3" cy="108.3" r="2"/></g><text class="t" x="138" y="29">X7_225 (p&lt;3.8e-10)</text><use href="#ax"/><text class="s" transform="translate(244,50.7) rotate(-90)">1.00</text><text class="s" transform="translate(244,108.3) rotate(-90)">0.09</text></g>

<g transform="translate(533.33,1950)"><use href="#fa"/><rect class="b" x="89.4" y="85.2" width="28.5" height="25.8"/><rect class="b" x="158.2" y="48" width="28.5" height="63"/><use href="#fb"/><polyline class="l" points="71.5,50.7 104.7,72.6 137.9,106 171.1,106 204.3,108.3"/><g fill="#ff5050" stroke="#f00"><circle cx="71.5" cy="50.7" r="2"/><circle cx="104.7" cy="72.6" r="2"/><circle cx="137.9" cy="106" r="2"/><circle cx="171.1" cy="106" r="2"/><circle cx="204.3" cy="108.3" r="2"/></g><text class="t" x="138" y="29">X7_656 (p&lt;6.7e-10)</text><use href="#ax"/><text class="s" transform="translate(244,50.7) rotate(-90)">1.00</text><text class="s" transform="translate(244,108.3) rotate(-90)">0.01</text></g>

<g transform="translate(0,2100)"><use href="#fa"/><rect class="b" x="89.4" y="81.4" width="28.5" height="29.6"/><rect class="b" x="158.2" y="96.5" width="28.5" height="14.5"/><use href="#fb"/><polyline class="l" points="71.5,50.7 104.7,73.7 137.9,106.6 171.1,106 204.3,108.3"/><g fill="#ff5050" stroke="#f00"><circle cx="71.5" cy="50.7" r="2"/><circle cx="104.7" cy="73.7" r="2"/><circle cx="137.9" cy="106.6" r="2"/><circle cx="171.1" cy="106" r="2"/><circle cx="204.3" cy="108.3" r="2"/></g><text class="t" x="138" y="29">X7_689 (p&lt;3.9e-09)</text><use href="#ax"/><text class="s" transform="translate(244,50.7) rotate(-90)">1.00</text><text class="s" transform="translate(244,108.3) rotate(-90)">0.03</text></g>

<g transform="translate(266.67,2100)"><use href="#fa"/><rect class="b" x="89.4" y="109.1" width="28.5" height="1.9"/><rect class="b" x="123.8" y="86.4" width="28.5" height="24.6"/><rect class="b" x="192.6" y="99.7" width="28.5" height="11.3"/><use href="#fb"/><polyline class="l" points="71.5,50.7 104.7,66.8 137.9,78.3 171.1,102.5 204.3,108.3"/><g fill="#ff5050" stroke="#f00"><circle cx="71.5" cy="50.7" r="2"/><circle cx="104.7" cy="66.8" r="2"/><circle cx="137.9" cy="78.3" r="2"/><circle cx="171.1" cy="102.5" r="2"/><circle cx="204.3" cy="108.3" r="2"/></g><text class="t" x="138" y="29">X7_964 (p&lt;6.1e-14)</text><use href="#ax"/><text class="s" transform="translate(244,50.7) rotate(-90)">1.00</text><text class="s" transform="translate(244,108.3) rotate(-90)">0.14</text></g>

<g transform="translate(533.33,2100)"><use href="#fa"/><rect class="b" x="89.4" y="66.3" width="28.5" height="44.7"/><rect class="b" x="123.8" y="69.4" width="28.5" height="41.6"/><rect class="b" x="158.2" y="48" width="28.5" height="63"/><use href="#fb"/><polyline class="l" points="71.5,94.5 104.7,100.8 137.9,108.3 171.1,108.3 204.3,50.7"/><g fill="#ff5050" stroke="#f00"><circle cx="71.5" cy="94.5" r="2"/><circle cx="104.7" cy="100.8" r="2"/><circle cx="137.9" cy="108.3" r="2"/><circle cx="171.1" cy="108.3" r="2"/><circle cx="204.3" cy="50.7" r="2"/></g><text class="t" x="138" y="29">X8_289 (p&lt;2.0e-15)</text><use href="#ax"/><text class="s" transform="translate(244,50.7) rotate(-90)">2.15</text><text class="s" transform="translate(244,108.3) rotate(-90)">0.63</text></g>

<g transform="translate(0,2250)"><use href="#fa"/><rect class="b" x="89.4" y="109.1" width="28.5" height="1.9"/><rect class="b" x="123.8" y="64.4" width="28.5" height="46.6"/><rect class="b" x="192.6" y="55.6" width="28.5" height="55.4"/><use href="#fb"/><polyline class="l" points="71.5,50.7 104.7,81.8 137.9,87 171.1,102.5 204.3,108.3"/><g fill="#ff5050" stroke="#f00"><circle cx="71.5" cy="50.7" r="2"/><circle cx="104.7" cy="81.8" r="2"/><circle cx="137.9" cy="87" r="2"/><circle cx="171.1" cy="102.5" r="2"/><circle cx="204.3" cy="108.3" r="2"/></g><text class="t" x="138" y="29">X8_833 (p&lt;3.3e-10)</text><use href="#ax"/><text class="s" transform="translate(244,50.7) rotate(-90)">1.00</text><text class="s" transform="translate(244,108.3) rotate(-90)">0.29</text></g>

<g transform="translate(266.67,2250)"><use href="#fa"/><rect class="b" x="89.4" y="109.1" width="28.5" height="1.9"/><rect class="b" x="123.8" y="48" width="28.5" height="63"/><rect class="b" x="192.6" y="48" width="28.5" height="63"/><use href="#fb"/><polyline class="l" points="71.5,50.7 104.7,81.8 137.9,84.1 171.1,104.8 204.3,108.3"/><g fill="#ff5050" stroke="#f00"><circle cx="71.5" cy="50.7" r="2"/><circle cx="104.7" cy="81.8" r="2"/><circle cx="137.9" cy="84.1" r="2"/><circle cx="171.1" cy="104.8" r="2"/><circle cx="204.3" cy="108.3" r="2"/></g><text class="t" x="138" y="29">X8_855 (p&lt;1.4e-10)</text><use href="#ax"/><text class="s" transform="translate(244,50.7) rotate(-90)">1.00</text><text class="s" transform="translate(244,108.3) rotate(-90)">0.25</text></g>

<g transform="translate(533.33,2250)"><use href="#fa"/><rect class="b" x="89.4" y="109.1" width="28.5" height="1.9"/><rect class="b" x="123.8" y="48.6" width="28.5" height="62.4"/><rect class="b" x="158.2" y="109.1" width="28.5" height="1.9"/><rect class="b" x="192.6" y="52.4" width="28.5" height="58.6"/><use href="#fb"/><polyline class="l" points="71.5,50.7 104.7,86.4 137.9,90.4 171.1,103.1 204.3,108.3"/><g fill="#ff5050" stroke="#f00"><circle cx="71.5" cy="50.7" r="2"/><circle cx="104.7" cy="86.4" r="2"/><circle cx="137.9" cy="90.4" r="2"/><circle cx="171.1" cy="103.1" r="2"/><circle cx="204.3" cy="108.3" r="2"/></g><text class="t" x="138" y="29">X9_126 (p&lt;1.3e-09)</text><use href="#ax"/><text class="s" transform="translate(244,50.7) rotate(-90)">1.00</text><text class="s" transform="translate(244,108.3) rotate(-90)">0.31</text></g>
</svg>
</body></html>
